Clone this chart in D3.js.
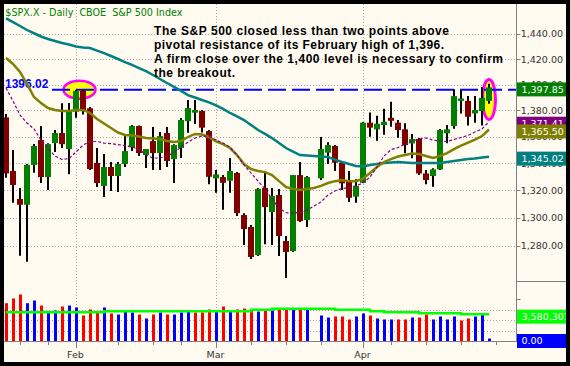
<!DOCTYPE html>
<html>
<head>
<meta charset="utf-8">
<script src="https://cdnjs.cloudflare.com/ajax/libs/d3/7.8.5/d3.min.js"></script>
<style>
  body { margin: 0; background: #000; }
  svg { display: block; }
  text { font-family: "DejaVu Sans", sans-serif; }
</style>
</head>
<body>
<svg id="chart" width="570" height="366"></svg>
<script>
// $SPX.X daily, 2008 (one blank slot for the Mar 21 holiday)
var dates = [
  "2008-01-17","2008-01-18","2008-01-22","2008-01-23","2008-01-24","2008-01-25","2008-01-28","2008-01-29","2008-01-30","2008-01-31",
  "2008-02-01","2008-02-04","2008-02-05","2008-02-06","2008-02-07","2008-02-08","2008-02-11","2008-02-12","2008-02-13","2008-02-14",
  "2008-02-15","2008-02-19","2008-02-20","2008-02-21","2008-02-22","2008-02-25","2008-02-26","2008-02-27","2008-02-28","2008-02-29",
  "2008-03-03","2008-03-04","2008-03-05","2008-03-06","2008-03-07","2008-03-10","2008-03-11","2008-03-12","2008-03-13","2008-03-14",
  "2008-03-17","2008-03-18","2008-03-19","2008-03-20","2008-03-21","2008-03-24","2008-03-25","2008-03-26","2008-03-27","2008-03-28",
  "2008-03-31","2008-04-01","2008-04-02","2008-04-03","2008-04-04","2008-04-07","2008-04-08","2008-04-09","2008-04-10","2008-04-11",
  "2008-04-14","2008-04-15","2008-04-16","2008-04-17","2008-04-18","2008-04-21","2008-04-22","2008-04-23","2008-04-24","2008-04-25"
];

var open = [
  1374.7,1334.3,1313.7,1309.5,1338.8,1357.5,1329.8,1355.2,1362.8,1350.7,
  1379.1,1395.4,1381.7,1340.3,1323.3,1337.3,1330.6,1339.5,1352.2,1368.1,
  1346.2,1356.7,1347.7,1362.8,1343.2,1351.5,1371.8,1378.3,1379.6,1364.3,
  1328.9,1329.8,1327.1,1332.8,1302.0,1293.4,1273.4,1321.8,1304.2,1316.6,
  1283.3,1276.2,1331.3,1298.4,null,1328.9,1348.0,1353.0,1340.5,1327.6,
  1315.4,1325.6,1370.7,1365.6,1368.9,1374.4,1370.7,1365.6,1355.0,1358.3,
  1332.5,1330.6,1335.5,1362.6,1368.1,1387.4,1387.4,1377.8,1379.6,1387.4
];
var high = [
  1377.3,1350.0,1321.8,1339.5,1354.6,1368.1,1355.0,1365.1,1385.5,1385.7,
  1396.0,1395.8,1382.7,1351.5,1347.0,1341.0,1341.0,1362.1,1368.9,1368.5,
  1350.7,1367.4,1363.6,1367.4,1354.4,1374.2,1388.1,1388.1,1380.4,1365.1,
  1335.0,1331.3,1344.0,1333.5,1303.4,1294.8,1321.8,1332.8,1321.8,1321.1,
  1286.9,1331.3,1341.0,1330.6,null,1359.8,1355.9,1353.7,1341.2,1334.3,
  1328.3,1371.2,1378.4,1376.0,1381.4,1386.7,1372.7,1370.2,1362.1,1359.0,
  1335.0,1336.3,1365.9,1368.9,1396.5,1395.6,1391.1,1391.1,1398.2,1400.6
];
var low = [
  1329.3,1311.0,1272.9,1268.6,1333.0,1325.4,1320.3,1348.5,1351.5,1332.0,
  1374.4,1377.0,1335.0,1322.5,1315.1,1319.5,1318.8,1337.3,1349.2,1345.5,
  1336.5,1335.0,1335.0,1337.3,1325.4,1344.0,1363.0,1369.6,1363.3,1324.5,
  1318.3,1305.8,1318.3,1301.3,1280.5,1270.5,1272.7,1281.0,1280.5,1272.7,
  1257.2,1275.5,1297.0,1293.4,null,1327.6,1339.5,1334.3,1320.3,1311.5,
  1311.0,1325.4,1360.0,1357.0,1361.5,1367.6,1359.2,1347.5,1343.8,1331.3,
  1324.5,1322.7,1335.0,1355.0,1366.0,1377.6,1368.6,1370.7,1368.6,1385.2
];
var close = [
  1332.5,1324.0,1309.5,1338.8,1353.0,1329.8,1354.4,1362.8,1354.4,1380.0,
  1395.0,1380.0,1335.8,1325.4,1337.3,1330.6,1339.5,1349.2,1368.1,1347.7,
  1350.7,1347.7,1360.5,1341.8,1353.7,1372.7,1381.9,1380.4,1366.9,1330.0,
  1331.8,1325.6,1334.3,1303.4,1291.9,1272.0,1321.1,1307.8,1315.9,1286.9,
  1275.5,1331.3,1297.7,1329.8,null,1350.7,1353.7,1340.5,1325.2,1314.6,
  1323.3,1370.7,1366.9,1369.9,1371.4,1372.1,1365.1,1353.7,1358.3,1332.5,
  1327.6,1335.5,1365.1,1365.6,1391.1,1389.2,1375.2,1380.4,1389.8,1397.85
];

// moving averages
var ma10 = [
  1397.4,1387.3,1376.5,1370.4,1365.9,1357.5,1351.5,1345.5,1342.9,1343.6,
  1348.5,1353.7,1356.4,1356.4,1355.2,1354.8,1354.1,1353.3,1352.2,1350.7,
  1346.2,1344.0,1344.0,1345.5,1348.1,1352.2,1355.9,1359.0,1360.5,1360.1,
  1357.5,1355.2,1352.2,1346.2,1338.8,1332.8,1326.8,1321.1,1313.7,1307.1,
  1303.7,1303.4,1304.1,1305.6,1308.5,1311.5,1316.6,1319.6,1321.4,1322.1,
  1323.3,1325.4,1329.8,1337.3,1345.5,1350.3,1351.8,1354.4,1356.7,1358.3,
  1359.0,1357.5,1356.7,1356.4,1357.9,1359.4,1361.0,1363.6,1365.9,1371.41
];
var ma20 = [
  1420.9,1416.2,1409.9,1400.5,1390.4,1385.7,1381.9,1380.4,1379.6,1379.6,
  1380.4,1380.4,1378.1,1373.5,1370.0,1366.6,1363.2,1361.3,1361.0,1360.2,
  1359.0,1358.7,1358.3,1356.8,1356.0,1356.8,1359.8,1362.1,1361.7,1359.8,
  1356.4,1354.4,1351.5,1346.2,1339.5,1335.8,1334.3,1333.5,1331.3,1326.8,
  1322.5,1321.1,1320.3,1321.1,1321.8,1323.3,1325.4,1326.8,1327.6,1326.8,
  1326.8,1328.7,1332.8,1337.3,1341.0,1343.2,1345.1,1346.2,1347.3,1347.0,
  1345.5,1344.0,1345.5,1347.7,1350.7,1353.3,1355.5,1357.8,1360.5,1365.50
];
var ma50 = [
  1452.6,1449.6,1446.4,1443.2,1440.6,1438.0,1436.0,1434.4,1432.8,1431.6,
  1430.0,1429.2,1428.8,1426.8,1424.8,1422.5,1420.1,1417.7,1415.4,1413.0,
  1410.6,1407.5,1404.4,1401.3,1398.2,1395.1,1391.9,1390.0,1388.1,1386.2,
  1383.9,1381.2,1378.1,1375.5,1372.7,1368.9,1365.1,1362.1,1359.0,1355.2,
  1351.5,1348.8,1346.2,1345.8,1345.5,1345.1,1344.7,1342.8,1341.0,1339.5,
  1338.0,1337.7,1338.8,1339.5,1340.3,1340.6,1341.0,1340.6,1340.3,1340.3,
  1340.3,1340.3,1340.3,1341.0,1341.7,1342.5,1343.2,1343.6,1344.4,1345.02
];

// volume, thousands
var volume = [
  5040,5670,6200,5040,5400,4730,3930,4070,4600,4730,
  4470,3400,4200,3930,4470,3670,3530,3930,3800,3530,
  3000,3530,3800,3530,3530,3800,3930,3800,3800,4200,
  3930,4600,4070,4200,4330,4070,3930,4200,4070,4130,
  4130,4130,4200,4200,null,3400,3130,3270,3270,2870,
  3270,3670,3400,3000,2870,2870,2870,2870,3130,3130,
  3530,2870,3270,2870,3270,2730,3000,3270,3530,330
];
var volAvg = [
  3840,3840,3840,3840,3840,3840,3840,3840,3840,3840,
  3840,3840,3840,3840,3970,3970,3970,3970,3970,3970,
  3970,3970,3970,3970,3970,3970,3970,3970,3970,3970,
  3970,3970,3970,3970,3970,4160,4160,4160,4290,4290,
  4290,4290,4290,4290,4290,4290,4290,4160,4160,4160,
  4160,4160,3970,3970,3840,3840,3840,3840,3840,3710,
  3710,3710,3710,3710,3710,3580.301,3580.301,3580.301,3580.301,3580.301
];
var volOther = 0;

var priceTicks = [1280, 1300, 1320, 1340, 1360, 1380, 1400, 1420, 1440];
var volGrid = [1400, 2800, 4200];
var volTicks = [2800, 5600];

var resistance = 1396.02;
var titleText = "$SPX.X - Daily  CBOE  S&P 500 Index";
var noteLines = [
  "The S&P 500 closed less than two points above",
  "pivotal resistance of its February high of 1,396.",
  "A firm close over the 1,400 level is necessary to confirm",
  "the breakout."
];
var noteWidths = [295, 290, 349, 81];

var svg = d3.select('#chart');
var W = 570, H = 366;
var plotL = 4, plotR = 516.5, topY = 4, priceBot = 281.5, volBase = 341;

svg.append('rect').attr('width', W).attr('height', H).attr('fill', '#000');
svg.append('rect').attr('x', 4).attr('y', 4).attr('width', 562).attr('height', 358).attr('fill', '#fffbf0');

var x = d3.scaleLinear().domain([0, 73]).range([6, 517]);
var y = d3.scaleLog().domain([1280, 1440]).range([245.7, 34]);
var vy = d3.scaleLinear().domain([0, 8000]).range([volBase, volBase - 60]);

var parse = d3.timeParse('%Y-%m-%d');
var days = dates.map(parse);
var n = dates.length;

svg.append('defs').append('clipPath').attr('id', 'pclip')
  .append('rect').attr('x', plotL).attr('y', topY).attr('width', plotR - plotL).attr('height', priceBot - topY);

// month starts and week starts
var monthSlots = [], weekSlots = [];
for (var i = 1; i < n; i++) {
  if (days[i].getMonth() !== days[i - 1].getMonth()) monthSlots.push(i);
  if (+d3.timeMonday.floor(days[i]) !== +d3.timeMonday.floor(days[i - 1])) weekSlots.push(i);
}
if (days[n - 1].getDay() === 5) weekSlots.push(n);
weekSlots = weekSlots.filter(function (s) {
  return !monthSlots.some(function (m) { return Math.abs(m - s) <= 1; });
});

// grid
var grid = svg.append('g').attr('stroke', '#a8a8a8').attr('stroke-width', 1).attr('stroke-dasharray', '1,2');
grid.selectAll('.hg').data(priceTicks).enter().append('line')
  .attr('x1', plotL).attr('x2', plotR)
  .attr('y1', function (d) { return Math.round(y(d)) + 0.5; })
  .attr('y2', function (d) { return Math.round(y(d)) + 0.5; });
grid.selectAll('.vg').data(volGrid).enter().append('line')
  .attr('x1', plotL).attr('x2', plotR)
  .attr('y1', function (d) { return Math.round(vy(d)) + 0.5; })
  .attr('y2', function (d) { return Math.round(vy(d)) + 0.5; });
grid.selectAll('.mg').data(monthSlots).enter().append('line')
  .attr('x1', function (d) { return Math.round(x(d)) + 0.5; })
  .attr('x2', function (d) { return Math.round(x(d)) + 0.5; })
  .attr('y1', topY).attr('y2', volBase);

// highlight ellipses
var marks = [
  { slot: 10.5, price: resistance, rx: 16, ry: 9, sw: 2.5 },
  { slot: 69, price: 1388.5, rx: 6.5, ry: 20, sw: 3 }
];
svg.selectAll('.hl').data(marks).enter().append('ellipse')
  .attr('cx', function (d) { return x(d.slot); })
  .attr('cy', function (d) { return y(d.price); })
  .attr('rx', function (d) { return d.rx; })
  .attr('ry', function (d) { return d.ry; })
  .attr('fill', '#ffff00').attr('stroke', '#ff00ff')
  .attr('stroke-width', function (d) { return d.sw; });

// resistance line
svg.append('line')
  .attr('x1', 52).attr('x2', plotR)
  .attr('y1', y(resistance)).attr('y2', y(resistance))
  .attr('stroke', '#0000ff').attr('stroke-width', 2).attr('stroke-dasharray', '18,6');
svg.append('text').attr('x', 5).attr('y', 87.5)
  .style('font-family', '"Liberation Sans", Arial, sans-serif')
  .style('font-size', '12px').style('font-weight', 'bold')
  .attr('fill', '#0000ff').text(d3.format('.2f')(resistance));

// candles
var bars = d3.range(n).filter(function (i) { return open[i] != null; });
var pg = svg.append('g').attr('clip-path', 'url(#pclip)');
pg.selectAll('.wick').data(bars).enter().append('line')
  .attr('x1', function (i) { return x(i); }).attr('x2', function (i) { return x(i); })
  .attr('y1', function (i) { return y(high[i]); })
  .attr('y2', function (i) { return y(low[i]); })
  .attr('stroke', '#000').attr('stroke-width', 2);
pg.selectAll('.body').data(bars).enter().append('rect')
  .attr('x', function (i) { return x(i) - 3; })
  .attr('width', 6)
  .attr('y', function (i) { return y(Math.max(open[i], close[i])); })
  .attr('height', function (i) { return Math.max(1.5, Math.abs(y(open[i]) - y(close[i]))); })
  .attr('fill', function (i) { return close[i] >= open[i] ? '#008000' : '#800000'; });

// moving averages
var maLine = d3.line().x(function (d, i) { return x(i); }).y(function (d) { return y(d); });
pg.append('path').datum(ma50).attr('d', maLine).attr('fill', 'none')
  .attr('stroke', '#008080').attr('stroke-width', 2.5);
pg.append('path').datum(ma20).attr('d', maLine).attr('fill', 'none')
  .attr('stroke', '#808000').attr('stroke-width', 2.5);
pg.append('path').datum(ma10).attr('d', maLine).attr('fill', 'none')
  .attr('stroke', '#800080').attr('stroke-width', 1.2).attr('stroke-dasharray', '3,2');

// volume
function prevClose(i) {
  for (var k = i - 1; k >= 0; k--) if (close[k] != null) return close[k];
  return open[i];
}
svg.selectAll('.vol').data(bars).enter().append('rect')
  .attr('x', function (i) { return x(i) - 1; })
  .attr('width', 3)
  .attr('y', function (i) { return vy(volume[i]); })
  .attr('height', function (i) { return volBase - vy(volume[i]); })
  .attr('fill', function (i) { return close[i] >= prevClose(i) ? '#0000ff' : '#ff0000'; });
svg.append('path').datum(volAvg)
  .attr('d', d3.line().curve(d3.curveStepAfter)
    .x(function (d, i) { return x(i); }).y(function (d) { return vy(d); }))
  .attr('fill', 'none').attr('stroke', '#00ff00').attr('stroke-width', 2.5);

// axes
var ax = svg.append('g').attr('stroke', '#808080').attr('stroke-width', 1);
ax.append('line').attr('x1', plotR).attr('x2', plotR).attr('y1', topY).attr('y2', volBase + 1);
ax.append('line').attr('x1', plotL).attr('x2', plotR).attr('y1', volBase + 0.5).attr('y2', volBase + 0.5);
ax.append('line').attr('x1', plotR).attr('x2', 566).attr('y1', priceBot).attr('y2', priceBot);
ax.selectAll('.pt').data(priceTicks).enter().append('line')
  .attr('x1', plotR).attr('x2', 520.5)
  .attr('y1', function (d) { return Math.round(y(d)) + 0.5; })
  .attr('y2', function (d) { return Math.round(y(d)) + 0.5; });
ax.selectAll('.vt').data(volTicks).enter().append('line')
  .attr('x1', plotR).attr('x2', 520.5)
  .attr('y1', function (d) { return Math.round(vy(d)) + 0.5; })
  .attr('y2', function (d) { return Math.round(vy(d)) + 0.5; });
ax.selectAll('.wt').data(weekSlots).enter().append('line')
  .attr('x1', function (d) { return Math.round(x(d)) + 0.5; })
  .attr('x2', function (d) { return Math.round(x(d)) + 0.5; })
  .attr('y1', volBase + 1).attr('y2', volBase + 4);
ax.selectAll('.mt').data(monthSlots).enter().append('line')
  .attr('x1', function (d) { return Math.round(x(d)) + 0.5; })
  .attr('x2', function (d) { return Math.round(x(d)) + 0.5; })
  .attr('y1', volBase + 1).attr('y2', volBase + 7);

svg.selectAll('.ml').data(monthSlots).enter().append('text')
  .attr('x', function (d) { return x(d) - 0.5; }).attr('y', 357.5)
  .attr('text-anchor', 'middle').style('font-size', '9.5px').attr('fill', '#333')
  .text(function (d) { return d3.timeFormat('%b')(days[d]); });

var fmt = d3.format(',.2f');
svg.selectAll('.pl').data(priceTicks).enter().append('text')
  .attr('x', 520.7).attr('y', function (d) { return y(d); })
  .attr('dy', '0.36em').style('font-size', '9.5px').attr('fill', '#333')
  .text(function (d) { return fmt(d); });

// last-value boxes
var last = n - 1;
var boxes = [
  { yv: y(ma10[last]) + 2, c: '#800080', t: fmt(ma10[last]) },
  { yv: y(ma20[last]) + 2, c: '#808000', t: fmt(ma20[last]) },
  { yv: y(close[last]) + 2, c: '#008000', t: fmt(close[last]) },
  { yv: y(ma50[last]) + 2, c: '#008080', t: fmt(ma50[last]) },
  { yv: vy(volAvg[last]) + 2.5, c: '#00ff00', t: d3.format(',')(Math.round(volAvg[last] * 1000)) },
  { yv: vy(volOther), c: '#0000ff', t: fmt(volOther) }
];
var bg = svg.selectAll('.box').data(boxes).enter().append('g');
bg.append('rect').attr('x', 517).attr('width', 49)
  .attr('y', function (d) { return d.yv - 7; }).attr('height', 14)
  .attr('fill', function (d) { return d.c; });
bg.append('text').attr('x', 521.5).attr('y', function (d) { return d.yv; })
  .attr('dy', '0.36em').style('font-size', '9.5px').attr('fill', '#fff')
  .text(function (d) { return d.t; });

// title and note
svg.append('text').attr('x', 5.3).attr('y', 16)
  .style('font-size', '9.6px').style('white-space', 'pre')
  .attr('fill', '#008000').text(titleText);
svg.selectAll('.note').data(noteLines).enter().append('text')
  .attr('x', 154).attr('y', function (d, i) { return 34.5 + i * 14.3; })
  .attr('textLength', function (d, i) { return noteWidths[i]; })
  .attr('lengthAdjust', 'spacing')
  .style('font-family', '"Liberation Sans", Arial, sans-serif')
  .style('font-size', '12px').style('font-weight', 'bold')
  .attr('fill', '#000').text(function (d) { return d; });

// outer frame
svg.append('path')
  .attr('d', 'M0,0H570V366H0Z M4,4V362H566V4Z')
  .attr('fill', '#000').attr('fill-rule', 'evenodd');
</script>
</body>
</html>
